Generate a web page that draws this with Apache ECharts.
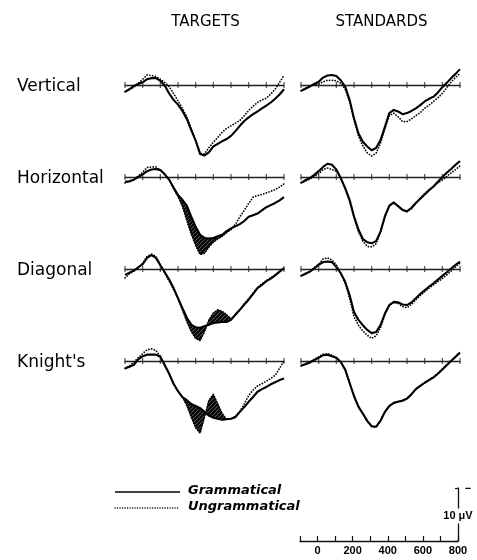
<!DOCTYPE html>
<html>
<head>
<meta charset="utf-8">
<script src="https://cdn.jsdelivr.net/npm/echarts@6/dist/echarts.min.js"></script>
<style>
  html, body { margin: 0; padding: 0; background: #fff; }
  #chart { width: 477px; height: 560px; }
</style>
</head>
<body>
<div id="chart"></div>
<script>
// Sample times (ms) shared by every waveform
const times = [-100, -75, -50, -25, 0, 25, 50, 75, 100, 125, 150, 175, 200, 225, 250, 275, 300, 325, 350,
  375, 400, 425, 450, 475, 500, 525, 550, 575, 600, 625, 650, 675, 700, 725, 750, 775, 800];

const conditions = ['Vertical', 'Horizontal', 'Diagonal', "Knight's"];
const columnTitles = ['TARGETS', 'STANDARDS'];
const legendNames = ['Grammatical', 'Ungrammatical'];

// Amplitudes in microvolts (positive plotted downward)
const vertTargGram   = [1.3, 0.8, 0.2, -0.2, -0.5, -1.1, -1.3, -1.3, -0.8, 0.1, 1.6, 2.8, 3.7, 4.9, 6.4, 8.5, 10.5, 13.0, 13.3, 12.7, 11.6, 11.1, 10.6, 10.2, 9.6, 8.7, 7.7, 6.8, 6.1, 5.5, 5.0, 4.4, 3.9, 3.3, 2.6, 1.8, 0.8];
const vertTargUngram = [1.3, 0.8, 0.4, -0.3, -1.1, -1.9, -1.8, -1.6, -1.1, -0.5, 0.3, 1.6, 3.0, 4.4, 6.0, 8.2, 10.5, 12.9, 13.0, 11.8, 10.8, 9.9, 8.9, 8.2, 7.7, 7.2, 6.7, 5.8, 4.8, 4.0, 3.3, 2.8, 2.5, 1.7, 0.8, -0.5, -1.8];
const vertStdGram    = [1.1, 0.7, 0.3, -0.2, -0.6, -1.4, -1.8, -1.9, -1.7, -0.9, 0.3, 2.8, 6.3, 9.1, 10.7, 11.6, 12.3, 11.9, 10.4, 7.9, 5.3, 4.7, 5.0, 5.5, 5.3, 4.9, 4.4, 3.8, 3.1, 2.6, 2.2, 1.4, 0.4, -0.4, -1.3, -2.1, -3.0];
const vertStdUngram  = [1.1, 0.6, 0.2, 0.0, -0.2, -0.6, -0.9, -0.9, -0.8, -0.3, 0.8, 3.1, 6.6, 9.6, 11.5, 12.8, 13.4, 12.9, 11.0, 8.2, 5.8, 5.3, 6.0, 6.9, 6.9, 6.4, 5.8, 5.2, 4.4, 3.8, 3.1, 2.4, 1.6, 0.5, -0.6, -1.4, -2.2];

const horzTargGram   = [0.9, 0.8, 0.5, 0.0, -0.5, -1.1, -1.4, -1.5, -1.3, -0.5, 0.5, 2.0, 3.4, 4.3, 5.4, 7.5, 9.4, 10.9, 11.5, 11.6, 11.5, 11.2, 10.9, 10.2, 9.7, 9.3, 8.9, 8.3, 7.5, 7.2, 6.9, 6.3, 5.7, 5.3, 4.9, 4.4, 3.8];
const horzTargUngram = [1.1, 0.9, 0.5, -0.2, -0.9, -1.8, -1.9, -1.9, -1.3, -0.5, 0.5, 2.2, 3.7, 5.5, 8.2, 10.8, 12.9, 14.6, 14.4, 13.2, 12.3, 11.7, 11.2, 10.5, 9.9, 8.9, 7.5, 6.3, 5.0, 3.8, 3.5, 3.3, 3.0, 2.7, 2.4, 1.9, 1.3];
const horzStdGram    = [1.1, 0.6, 0.2, -0.4, -1.1, -1.9, -2.5, -2.3, -1.4, 0.2, 2.1, 4.3, 7.4, 9.9, 11.7, 12.3, 12.5, 12.1, 10.3, 7.4, 5.4, 4.8, 5.5, 6.2, 6.5, 5.8, 4.9, 4.1, 3.3, 2.5, 1.8, 0.9, 0.0, -0.8, -1.5, -2.3, -3.0];
const horzStdUngram  = [1.1, 0.8, 0.4, -0.1, -0.6, -1.4, -1.7, -1.4, -1.1, 0.2, 2.3, 4.6, 7.7, 10.3, 12.1, 13.1, 13.2, 12.6, 10.4, 7.5, 5.5, 4.9, 5.5, 6.3, 6.5, 6.0, 5.0, 4.0, 3.1, 2.4, 1.8, 1.1, 0.6, -0.1, -0.8, -1.4, -2.1];

const diagTargGram   = [1.1, 0.7, 0.3, -0.3, -0.9, -2.1, -2.6, -2.1, -0.7, 0.6, 2.0, 3.6, 5.5, 7.4, 9.2, 10.5, 11.0, 11.1, 10.8, 10.5, 10.2, 10.1, 10.0, 10.0, 9.6, 8.6, 7.7, 6.7, 5.8, 4.7, 3.6, 3.0, 2.3, 1.8, 1.2, 0.5, -0.2];
const diagTargUngram = [1.7, 0.9, 0.4, -0.3, -1.1, -2.4, -2.8, -2.4, -0.8, 0.8, 2.3, 3.9, 5.5, 7.7, 9.9, 11.8, 13.1, 13.5, 11.8, 9.6, 8.3, 7.7, 8.0, 8.6, 9.4, 8.7, 7.7, 6.6, 5.6, 4.5, 3.5, 2.8, 2.2, 1.6, 1.1, 0.5, -0.1];
const diagStdGram    = [1.3, 0.9, 0.5, -0.1, -0.8, -1.3, -1.4, -1.3, -0.4, 0.8, 2.4, 4.9, 8.1, 9.6, 10.6, 11.5, 12.1, 11.9, 10.6, 8.4, 6.8, 6.2, 6.3, 6.7, 6.8, 6.3, 5.5, 4.7, 4.0, 3.3, 2.7, 2.0, 1.3, 0.6, -0.1, -0.8, -1.4];
const diagStdUngram  = [1.3, 0.9, 0.5, -0.3, -0.9, -1.9, -2.1, -1.7, -0.8, 0.8, 2.7, 5.5, 9.0, 10.6, 11.7, 12.5, 13.1, 12.6, 11.1, 8.6, 6.8, 6.3, 6.5, 7.1, 7.3, 6.7, 5.8, 5.0, 4.3, 3.6, 3.0, 2.4, 1.8, 1.1, 0.4, -0.4, -1.1];

const kniTargGram    = [1.4, 1.1, 0.7, -0.3, -0.9, -1.2, -1.2, -1.2, -0.8, 0.8, 2.4, 4.3, 5.7, 6.8, 7.4, 8.1, 8.5, 8.9, 9.6, 10.3, 10.7, 10.9, 11.1, 11.0, 10.9, 10.6, 9.6, 8.7, 7.7, 6.8, 5.8, 5.3, 4.9, 4.4, 4.0, 3.6, 3.3];
const kniTargUngram  = [1.4, 0.9, 0.2, -0.6, -1.4, -2.1, -2.3, -2.0, -0.9, 0.7, 2.4, 4.3, 5.7, 6.8, 8.4, 10.6, 12.6, 13.6, 10.6, 7.4, 6.3, 8.1, 9.9, 11.0, 10.9, 10.4, 9.5, 8.1, 6.5, 5.5, 4.7, 4.3, 3.8, 3.3, 2.7, 1.4, -0.1];
const kniStdGram     = [0.9, 0.6, 0.3, -0.2, -0.6, -1.1, -1.2, -0.9, -0.6, 0.2, 1.6, 4.1, 6.6, 8.6, 9.9, 11.3, 12.3, 12.4, 11.3, 9.6, 8.5, 7.9, 7.7, 7.5, 7.1, 6.3, 5.3, 4.7, 4.1, 3.6, 3.1, 2.4, 1.6, 0.8, 0.0, -0.8, -1.6];
const kniStdUngram   = [0.9, 0.5, 0.2, -0.3, -0.8, -1.3, -1.4, -1.1, -0.6, 0.2, 1.7, 4.2, 6.7, 8.7, 10.0, 11.4, 12.4, 12.5, 11.2, 9.5, 8.4, 7.9, 7.6, 7.4, 7.0, 6.2, 5.3, 4.7, 4.1, 3.5, 3.0, 2.3, 1.5, 0.7, -0.1, -0.8, -1.5];

// Time windows (ms) where the target difference is shaded, per condition
const shadedSpans = [null, [175, 500], [225, 525], [225, 475]];

// Axis tick times and calibration-bar labels
const tickTimes = [-100, 0, 100, 200, 300, 400, 500, 600, 700, 800];
const scaleBarLabels = [0, 200, 400, 600, 800];
const scaleBarAmplitude = 10;

// ---- layout ----
const PX_PER_UV = 5.3;
const Y_MIN = -8, Y_MAX = 16;
const baselineY = [85, 177, 269, 361];
const columnLeft = [125, 301];
const panelWidth = 159;

const panels = [
  [vertTargGram, vertTargUngram, vertStdGram, vertStdUngram],
  [horzTargGram, horzTargUngram, horzStdGram, horzStdUngram],
  [diagTargGram, diagTargUngram, diagStdGram, diagStdUngram],
  [kniTargGram, kniTargUngram, kniStdGram, kniStdUngram]
];

function pairs(values) { return times.map((t, i) => [t, values[i]]); }

// Dark hatch used for the difference bands
function hatchTile() {
  const c = document.createElement('canvas');
  c.width = 4; c.height = 4;
  const g = c.getContext('2d');
  g.fillStyle = '#0a0a0a';
  g.fillRect(0, 0, 4, 4);
  g.fillStyle = '#555';
  for (let i = 0; i < 4; i++) g.fillRect(i, 3 - i, 1, 1);
  return c;
}
const hatchFill = hatchTile();

// Band between the two waveforms: one polygon built from every row of the series
function renderBand(params, api) {
  if (params.dataIndexInside !== 0) return null;
  const n = params.dataInsideLength;
  const upper = [], lower = [];
  for (let i = 0; i < n; i++) {
    upper.push(api.coord([api.value(0, i), api.value(1, i)]));
    lower.push(api.coord([api.value(0, i), api.value(2, i)]));
  }
  return {
    type: 'polygon',
    shape: { points: upper.concat(lower.reverse()) },
    style: { fill: { image: hatchFill, repeat: 'repeat' }, stroke: '#111', lineWidth: 0.8 },
    silent: true
  };
}

const grid = [], xAxis = [], yAxis = [], series = [];

conditions.forEach((cond, r) => {
  [0, 1].forEach(c => {
    const k = grid.length;
    grid.push({
      left: columnLeft[c],
      top: baselineY[r] + Y_MIN * PX_PER_UV,
      width: panelWidth,
      height: (Y_MAX - Y_MIN) * PX_PER_UV
    });
    xAxis.push({
      gridIndex: k, type: 'value', min: -100, max: 800, interval: 100,
      axisLine: { show: true, onZero: true, lineStyle: { color: '#222', width: 1.3 } },
      axisTick: { show: false }, axisLabel: { show: false }, splitLine: { show: false }
    });
    yAxis.push({
      gridIndex: k, type: 'value', min: Y_MIN, max: Y_MAX, inverse: true,
      axisLine: { show: false }, axisTick: { show: false },
      axisLabel: { show: false }, splitLine: { show: false }
    });

    const gram = panels[r][c * 2];
    const ungram = panels[r][c * 2 + 1];
    const span = c === 0 ? shadedSpans[r] : null;

    if (span) {
      const bandRows = [];
      times.forEach((t, i) => {
        if (t >= span[0] && t <= span[1]) bandRows.push([t, gram[i], ungram[i]]);
      });
      series.push({
        type: 'custom', xAxisIndex: k, yAxisIndex: k, data: bandRows,
        encode: { x: 0, y: [1, 2] }, renderItem: renderBand, z: 2, silent: true, clip: false
      });
    }
    // Grammatical (solid)
    series.push({
      type: 'line', xAxisIndex: k, yAxisIndex: k, data: pairs(gram),
      symbol: 'none', z: 4, silent: true,
      lineStyle: { color: '#000', width: 2.1, join: 'round' }
    });
    // Ungrammatical (dotted)
    series.push({
      type: 'line', xAxisIndex: k, yAxisIndex: k, data: pairs(ungram),
      symbol: 'none', z: 3, silent: true,
      lineStyle: { color: '#000', width: 1.7, type: [0.1, 2.7], cap: 'round' }
    });
    // Tick marks crossing the baseline
    series.push({
      type: 'scatter', xAxisIndex: k, yAxisIndex: k,
      data: tickTimes.map(t => [t, 0]),
      symbol: 'rect', symbolSize: [1.2, 6], silent: true, z: 5,
      itemStyle: { color: '#222' }
    });
  });
});

// Calibration bar: time axis and amplitude scale
const sb = grid.length;
grid.push({ left: 300, top: 488, width: 158, height: 53 });
xAxis.push({
  gridIndex: sb, type: 'value', min: -100, max: 800, interval: 100, position: 'bottom',
  axisLine: { show: true, onZero: false, lineStyle: { color: '#111', width: 1.3 } },
  axisTick: { show: true, inside: true, length: 5, lineStyle: { color: '#111', width: 1.2 } },
  axisLabel: {
    show: true, margin: 4, color: '#000',
    fontFamily: 'Liberation Sans', fontWeight: 'bold', fontSize: 11,
    formatter: v => scaleBarLabels.includes(v) ? String(v) : ''
  },
  splitLine: { show: false }
});
yAxis.push({
  gridIndex: sb, type: 'value', min: 0, max: scaleBarAmplitude, interval: scaleBarAmplitude, position: 'right',
  axisLine: { show: true, onZero: false, lineStyle: { color: '#111', width: 1.3 } },
  axisTick: { show: true, inside: true, length: 3, lineStyle: { color: '#111', width: 1.2 } },
  axisLabel: { show: false }, splitLine: { show: false }
});

const graphic = [];
columnTitles.forEach((t, c) => {
  graphic.push({
    type: 'text', x: columnLeft[c] + panelWidth / 2 + 1, y: 22, silent: true,
    style: { text: t, fontFamily: 'DejaVu Sans', fontSize: 15, fill: '#000', align: 'center', verticalAlign: 'middle' }
  });
});
conditions.forEach((name, r) => {
  graphic.push({
    type: 'text', x: 17, y: baselineY[r] + 2, silent: true,
    style: { text: name, fontFamily: 'DejaVu Sans', fontSize: 17, fill: '#000', align: 'left', verticalAlign: 'middle' }
  });
});
// Legend
graphic.push({
  type: 'line', silent: true,
  shape: { x1: 115, y1: 492, x2: 180, y2: 492 },
  style: { stroke: '#000', lineWidth: 1.6 }
});
graphic.push({
  type: 'line', silent: true,
  shape: { x1: 115, y1: 508, x2: 180, y2: 508 },
  style: { stroke: '#000', lineWidth: 1.4, lineDash: [0.1, 2.4], lineCap: 'round' }
});
legendNames.forEach((n, i) => {
  graphic.push({
    type: 'text', x: 188, y: 491 + i * 16, silent: true,
    style: { text: n, fontFamily: 'DejaVu Sans', fontWeight: 'bold', fontStyle: 'italic', fontSize: 13,
      fill: '#000', align: 'left', verticalAlign: 'middle' }
  });
});
// Amplitude scale labels
graphic.push({
  type: 'text', x: 458, y: 516, silent: true, z: 10,
  style: { text: scaleBarAmplitude + ' \u03bcV', fontFamily: 'Liberation Sans', fontWeight: 'bold', fontSize: 11,
    fill: '#000', align: 'center', verticalAlign: 'middle', backgroundColor: '#fff', padding: [2, 1] }
});
graphic.push({
  type: 'text', x: 468, y: 489, silent: true,
  style: { text: '\u2212', fontFamily: 'Liberation Sans', fontWeight: 'bold', fontSize: 11,
    fill: '#000', align: 'center', verticalAlign: 'middle' }
});

const chart = echarts.init(document.getElementById('chart'), null, { renderer: 'canvas' });
chart.setOption({
  animation: false,
  backgroundColor: '#fff',
  grid, xAxis, yAxis, series, graphic
});
</script>
</body>
</html>
